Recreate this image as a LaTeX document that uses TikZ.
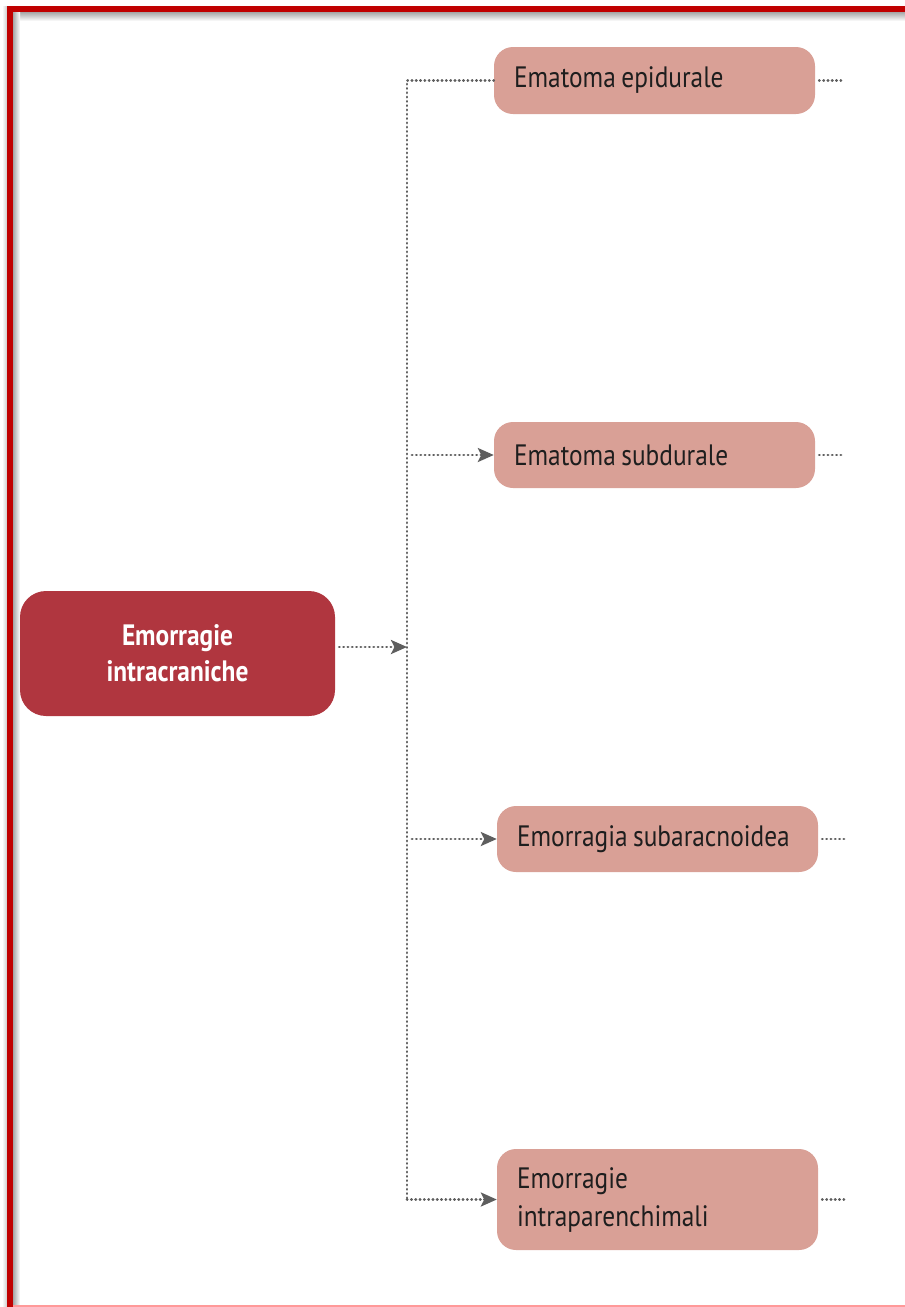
\documentclass[tikz,border=0pt]{standalone}
\usepackage{fontspec}
\setmainfont{PT Sans}[FakeStretch=0.86]
\usetikzlibrary{arrows.meta}
\definecolor{mainred}{HTML}{B0363F}
\definecolor{boxpink}{HTML}{D9A096}
\definecolor{frame}{HTML}{C00000}
\definecolor{dotgray}{HTML}{5E5E5E}
\definecolor{txt}{HTML}{1E1E1E}
\tikzset{
  mainbox/.style={fill=mainred, rounded corners=26pt, minimum width=315pt, minimum height=125pt,
    text=white, align=center, font=\fontsize{29.5}{36}\selectfont\bfseries, inner sep=0pt},
  subbox/.style={fill=boxpink, rounded corners=19pt, minimum width=321pt, text width=281pt,
    inner xsep=20pt, inner ysep=0pt, align=left, text=txt, font=\fontsize{29.5}{38}\selectfont,
    execute at begin node={\spaceskip=5.5pt plus 2pt minus 1pt\relax}},
  dotline/.style={draw=dotgray, line width=2.8pt, line cap=round, dash pattern=on 0.3pt off 4pt},
  tip/.style={-{Stealth[length=16pt,width=14pt,inset=3.5pt]}, dotgray}
}
\begin{document}
\begin{tikzpicture}[x=1pt,y=-1pt]
\useasboundingbox (0,0) rectangle (905,1307);
% frame
\shade[top color=black!35, bottom color=white] (13,12) rectangle (905,21);
\shade[left color=black!35, right color=white] (13,12) rectangle (20,1307);
\shade[left color=white, right color=black!20] (2,6) rectangle (7,1307);
\fill[frame] (7,6) rectangle (905,12);
\fill[frame] (7,6) rectangle (13,1307);
\fill[red!40] (13,1305) rectangle (905,1307);
% nodes
\node[mainbox] (main) at (177.5,653.5) {Emorragie\\intracraniche};
\node[subbox, minimum height=67pt] (b1) at (654.5,80.5) {Ematoma epidurale};
\node[subbox, minimum height=66pt] (b2) at (654.5,455) {Ematoma subdurale};
\node[subbox, minimum height=66pt] (b3) at (657.5,839) {Emorragia subaracnoidea};
\node[subbox, minimum height=101pt] (b4) at (657.5,1199.5) {Emorragie\\intraparenchimali};
% junction coordinates
\coordinate (j0) at (407,647);
\coordinate (jt) at (407,80.5);
\coordinate (jb) at (407,1199.5);
% connectors
\draw[dotline, tip] ([xshift=4pt]main.east |- j0) -- (j0);
\draw[dotline] (b1.west) -- (jt) -- (jb);
\draw[dotline, tip] (jb) -- (b4.west);
\draw[dotline, tip] ([xshift=5pt]jt |- b2.west) -- (b2.west);
\draw[dotline, tip] ([xshift=5pt]jt |- b3.west) -- (b3.west);
% right stubs
\foreach \b in {b1,b2,b3,b4}{
  \draw[dotline] ([xshift=4pt]\b.east) -- ([xshift=28pt]\b.east);
}
\end{tikzpicture}
\end{document}
